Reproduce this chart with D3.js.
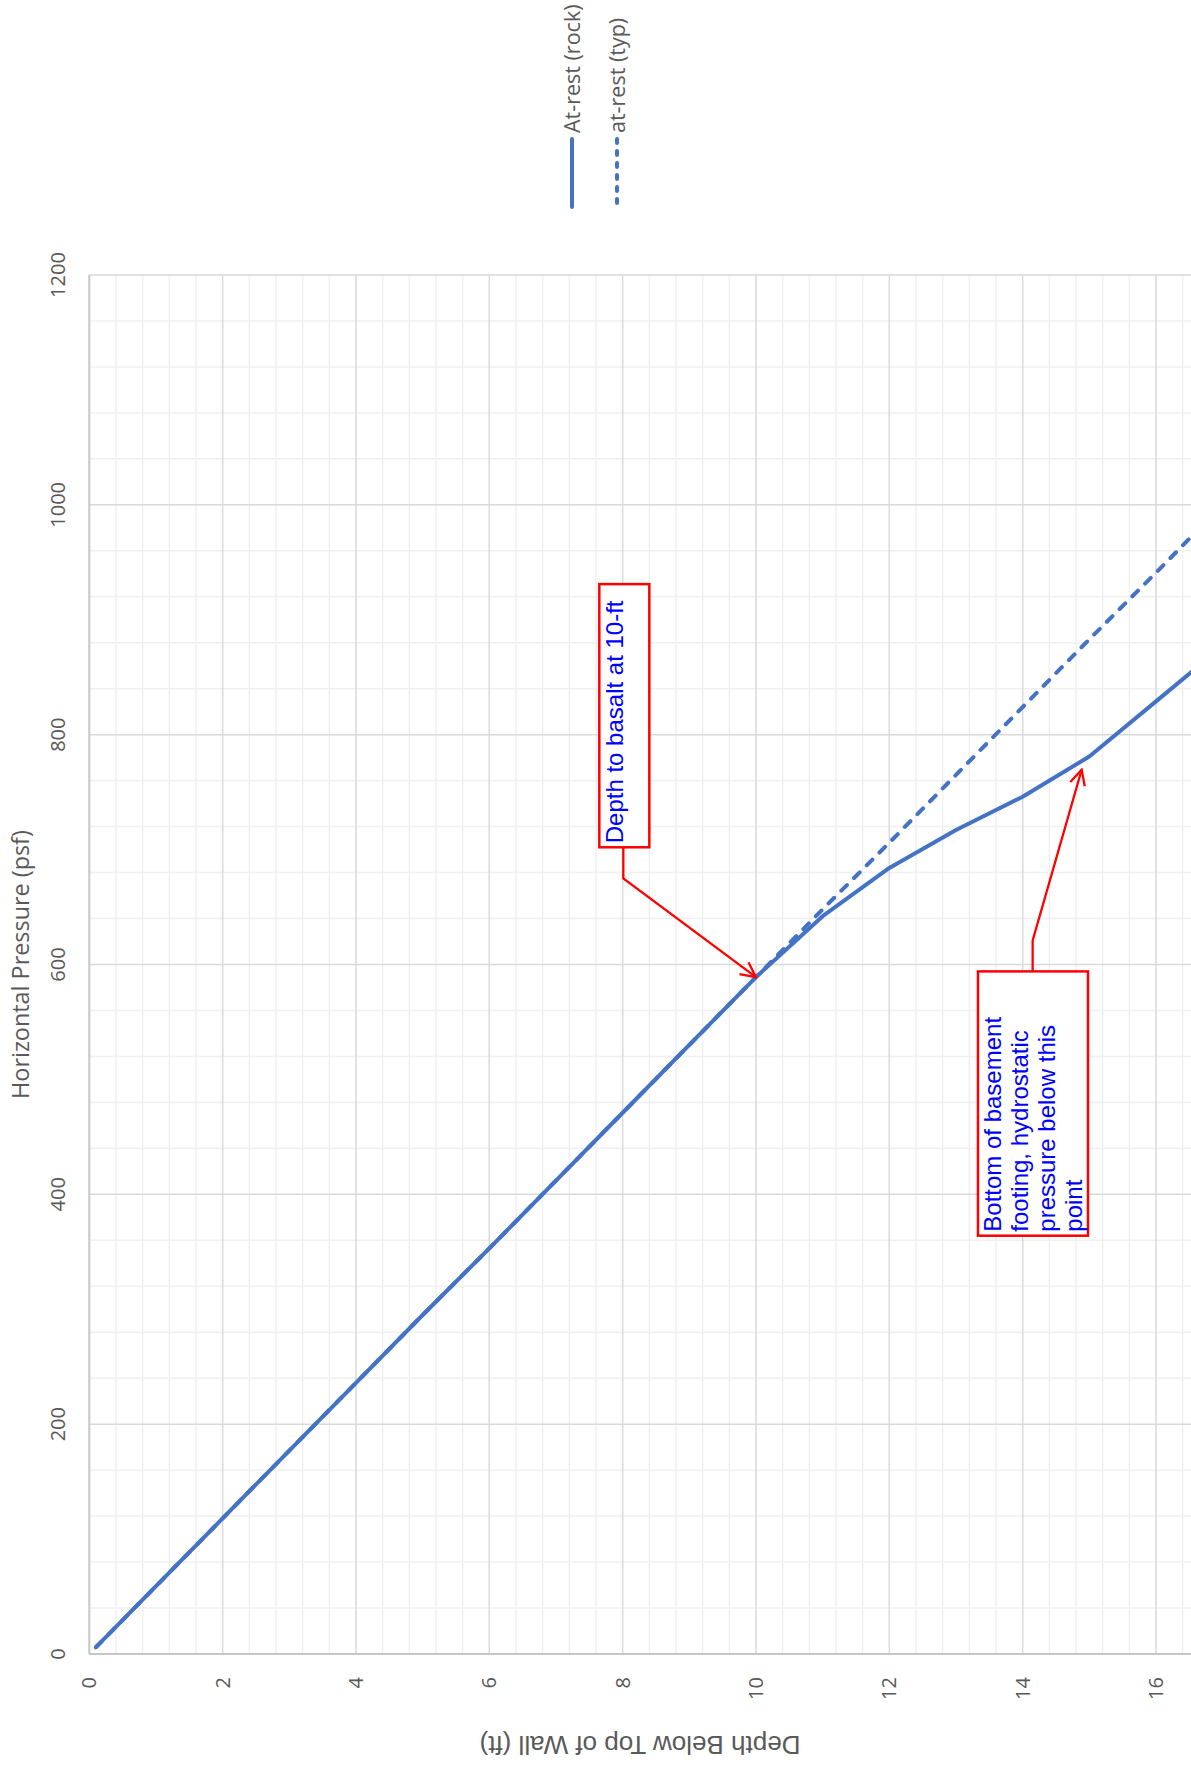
<!DOCTYPE html>
<html>
<head>
<meta charset="utf-8">
<script src="https://cdn.jsdelivr.net/npm/d3@7"></script>
<style>
  body { margin: 0; background: #fff; }
  svg { display: block; }
</style>
</head>
<body>
<svg id="chart" width="1191" height="1765"></svg>
<script>
// Depth below top of wall (ft) at each computed point
const depthFt = [0.1, 1, 2, 3, 4, 5, 6, 7, 8, 9, 10, 11, 12, 13, 14, 15, 16, 17];
// At-rest pressure with basalt below 10 ft (psf)
const rockPsf = [5.9, 59, 118, 177, 236, 295, 353, 412, 471, 530, 589, 642, 684, 717, 746, 781, 829, 877];
// Typical at-rest pressure, soil throughout (psf)
const typPsf  = [5.9, 59, 118, 177, 236, 295, 353, 412, 471, 530, 589, 648, 706, 765, 824, 883, 941, 1000];

const seriesNames = ["At-rest (rock)", "at-rest (typ)"];
const depthTicks = [0, 2, 4, 6, 8, 10, 12, 14, 16];
const pressureTicks = [0, 200, 400, 600, 800, 1000, 1200];
const axisTitles = { depth: "Depth Below Top of Wall (ft)", pressure: "Horizontal Pressure (psf)" };

const noteBasalt = ["Depth to basalt at 10-ft"];
const noteFooting = ["Bottom of basement", "footing, hydrostatic", "pressure below this", "point"];

// ---- layout ----
const plot = { left: 89.3, right: 1191, top: 275, bottom: 1654 };
const blue = "#4472C4";
const gray = "#595959";

const svg = d3.select("#chart");

const x = d3.scaleLinear().domain([0, 16.525]).range([plot.left, plot.right]);
const y = d3.scaleLinear().domain([0, 1200]).range([plot.bottom, plot.top]);

const defs = svg.append("defs");
defs.append("clipPath").attr("id", "plotClip")
  .append("rect")
  .attr("x", plot.left).attr("y", plot.top)
  .attr("width", plot.right - plot.left).attr("height", plot.bottom - plot.top);

// ---- gridlines ----
const grid = svg.append("g");
const minorDepth = d3.range(0, 16.45, 0.4).filter(d => Math.abs(d / 2 - Math.round(d / 2)) > 1e-6);
const minorPress = d3.range(0, 1200, 40).filter(p => p % 200 !== 0);

grid.selectAll(".mx").data(minorDepth).join("line")
  .attr("x1", d => x(d)).attr("x2", d => x(d))
  .attr("y1", plot.top).attr("y2", plot.bottom)
  .attr("stroke", "#f0f0f0").attr("stroke-width", 1.5);
grid.selectAll(".my").data(minorPress).join("line")
  .attr("x1", plot.left).attr("x2", plot.right)
  .attr("y1", d => y(d)).attr("y2", d => y(d))
  .attr("stroke", "#f0f0f0").attr("stroke-width", 1.5);
grid.selectAll(".Mx").data(depthTicks.filter(d => d > 0)).join("line")
  .attr("x1", d => x(d)).attr("x2", d => x(d))
  .attr("y1", plot.top).attr("y2", plot.bottom)
  .attr("stroke", "#d9d9d9").attr("stroke-width", 1.5);
grid.selectAll(".My").data(pressureTicks.filter(p => p > 0)).join("line")
  .attr("x1", plot.left).attr("x2", plot.right)
  .attr("y1", d => y(d)).attr("y2", d => y(d))
  .attr("stroke", "#d9d9d9").attr("stroke-width", 1.5);

// axis lines
svg.append("line").attr("x1", x(0)).attr("x2", x(0))
  .attr("y1", plot.top).attr("y2", plot.bottom)
  .attr("stroke", "#c6c6c6").attr("stroke-width", 2);
svg.append("line").attr("x1", plot.left).attr("x2", plot.right)
  .attr("y1", y(0)).attr("y2", y(0))
  .attr("stroke", "#c6c6c6").attr("stroke-width", 2);

// ---- tick labels (rotated) ----
const tickFont = "'Open Sans', sans-serif";
svg.append("g").selectAll("text").data(pressureTicks).join("text")
  .attr("transform", d => `translate(65,${y(d)}) rotate(-90)`)
  .attr("text-anchor", "middle")
  .attr("font-family", tickFont).attr("font-size", 20).attr("fill", gray)
  .text(d => d);

svg.append("g").selectAll("text").data(depthTicks).join("text")
  .attr("transform", d => `translate(${x(d) + 7},1677) rotate(-90)`)
  .attr("text-anchor", "end")
  .attr("font-family", tickFont).attr("font-size", 20).attr("fill", gray)
  .text(d => d);

// axis titles
svg.append("text")
  .attr("transform", `translate(29,${(plot.top + plot.bottom) / 2}) rotate(-90)`)
  .attr("text-anchor", "middle")
  .attr("font-family", tickFont).attr("font-size", 23.4).attr("fill", gray)
  .text(axisTitles.pressure);
svg.append("text")
  .attr("transform", `translate(640,1736) rotate(180)`)
  .attr("text-anchor", "middle")
  .attr("font-family", "'Liberation Sans', Arial, sans-serif").attr("font-size", 26).attr("fill", gray)
  .text(axisTitles.depth);

// ---- series ----
const line = d3.line().x(d => x(d[0])).y(d => y(d[1]));
const rockPts = depthFt.map((d, i) => [d, rockPsf[i]]);
const typPts = depthFt.map((d, i) => [d, typPsf[i]]);

const series = svg.append("g").attr("clip-path", "url(#plotClip)");
series.append("path").datum(rockPts)
  .attr("d", line).attr("fill", "none").attr("stroke", blue)
  .attr("stroke-width", 4).attr("stroke-linejoin", "round").attr("stroke-linecap", "round");
series.append("path").datum(typPts)
  .attr("d", line).attr("fill", "none").attr("stroke", blue)
  .attr("stroke-width", 4).attr("stroke-linejoin", "round").attr("stroke-linecap", "round")
  .attr("stroke-dasharray", "8,10");

// ---- legend ----
const legend = svg.append("g");
const legendX = [572, 617];
seriesNames.forEach((name, i) => {
  legend.append("line")
    .attr("x1", legendX[i]).attr("x2", legendX[i])
    .attr("y1", 139).attr("y2", 207)
    .attr("stroke", blue).attr("stroke-width", 4).attr("stroke-linecap", "round")
    .attr("stroke-dasharray", i === 1 ? "4,8" : null);
  legend.append("text")
    .attr("transform", `translate(${legendX[i] + 8},133) rotate(-90)`)
    .attr("font-family", tickFont).attr("font-size", 21.5).attr("fill", gray)
    .text(name);
});

// ---- callouts ----
defs.append("marker").attr("id", "openArrow")
  .attr("viewBox", "-18 -10 20 20").attr("refX", 0).attr("refY", 0)
  .attr("markerUnits", "userSpaceOnUse").attr("markerWidth", 20).attr("markerHeight", 20)
  .attr("orient", "auto")
  .append("path").attr("d", "M-15,-7.5 L0,0 L-15,7.5")
  .attr("fill", "none").attr("stroke", "#FF0000").attr("stroke-width", 2.3);

const noteFont = "'Liberation Sans', Arial, sans-serif";
function callout(lines, box, elbow, tip, baseOffset) {
  const g = svg.append("g");
  const bx0 = x(box.d0), bx1 = x(box.d1), by0 = y(box.p1), by1 = y(box.p0);
  g.append("polyline")
    .attr("points", elbow.map(p => [x(p[0]), y(p[1])].join(",")).concat([[x(tip[0]), y(tip[1])].join(",")]).join(" "))
    .attr("fill", "none").attr("stroke", "#FF0000").attr("stroke-width", 2.3)
    .attr("marker-end", "url(#openArrow)");
  g.append("rect")
    .attr("x", bx0).attr("y", by0).attr("width", bx1 - bx0).attr("height", by1 - by0)
    .attr("fill", "#fff").attr("stroke", "#FF0000").attr("stroke-width", 2.5);
  lines.forEach((t, i) => {
    g.append("text")
      .attr("transform", `translate(${bx0 + baseOffset + i * 27},${by1 - 4}) rotate(-90)`)
      .attr("font-family", noteFont).attr("font-size", 24).attr("fill", "#0000FF")
      .text(t);
  });
}

callout(noteBasalt,
  { d0: 7.65, d1: 8.40, p0: 702, p1: 931 },
  [[8.01, 702], [8.01, 675]],
  [10.0, 589], 24);
callout(noteFooting,
  { d0: 13.33, d1: 14.98, p0: 364, p1: 594 },
  [[14.15, 594], [14.15, 621]],
  [14.885, 769.5], 23);
</script>
</body>
</html>
